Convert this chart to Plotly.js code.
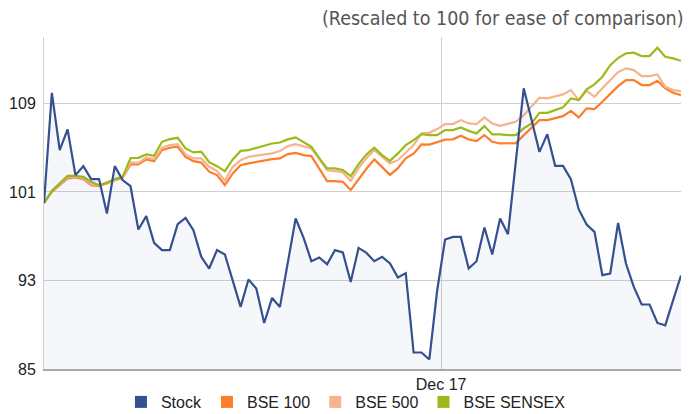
<!DOCTYPE html>
<html>
<head>
<meta charset="utf-8">
<script src="https://cdn.plot.ly/plotly-3.0.1.min.js"></script>
<style>
  html, body { margin: 0; padding: 0; background: #ffffff; }
  #chart { width: 689px; height: 414px; }
</style>
</head>
<body>
<div id="chart"></div>
<script>
// ---- data (rescaled to 100), one value per trading day ----
const stock = [100.00,109.96,104.78,106.65,102.52,103.33,102.16,102.16,99.05,103.33,
  102.07,101.52,97.61,98.81,96.40,95.74,95.74,98.09,98.66,97.54,
  95.13,94.08,95.74,95.35,92.98,90.61,93.09,92.27,89.16,91.42,
  90.61,94.61,98.60,96.88,94.74,95.08,94.47,95.74,95.53,92.87,
  95.94,95.49,94.74,95.13,94.53,93.27,93.66,86.49,86.49,85.86,
  92.12,96.70,96.94,96.94,94.08,94.74,97.79,95.35,98.60,97.18,
  103.78,110.36,107.49,104.62,106.22,103.36,103.36,102.16,99.42,98.06,
  97.39,93.48,93.63,98.20,94.53,92.42,90.83,90.83,89.16,88.95,
  91.22,93.45];

const bse100 = [100.00,101.01,101.61,102.22,102.31,102.16,101.61,101.52,101.77,102.07,
  102.27,103.49,103.49,103.94,103.78,104.78,104.99,105.08,104.17,103.78,
  103.65,102.83,102.52,101.61,102.67,103.42,103.58,103.72,103.87,103.96,
  104.03,104.42,104.53,104.33,104.24,103.11,101.98,101.98,101.91,101.16,
  102.16,103.09,103.94,103.27,102.54,103.15,104.03,104.46,105.29,105.28,
  105.50,105.73,105.75,106.07,105.75,105.59,106.13,105.53,105.38,105.38,
  105.41,106.13,106.83,107.49,107.49,107.64,107.85,108.33,107.73,108.55,
  108.49,109.15,109.90,110.56,111.11,111.11,110.66,110.66,111.04,110.36,
  109.96,109.75];

const bse500 = [100.00,101.07,101.66,102.34,102.38,102.25,101.70,101.57,101.84,102.11,
  102.34,103.67,103.63,104.12,103.96,104.99,105.23,105.32,104.39,104.03,
  104.03,103.27,102.91,102.00,103.27,103.87,104.17,104.28,104.39,104.48,
  104.69,105.14,105.32,105.14,104.93,103.96,102.97,102.88,102.76,102.00,
  103.15,104.05,104.78,104.17,103.58,103.87,104.53,105.23,106.29,106.34,
  106.68,107.13,107.13,107.49,107.19,107.13,107.73,107.19,106.98,107.13,
  107.34,107.94,108.69,109.51,109.45,109.66,109.81,110.20,109.30,110.14,
  109.60,110.36,111.11,111.83,112.17,112.01,111.47,111.47,111.62,110.50,
  110.20,110.11];

const sensex = [100.00,101.10,101.77,102.45,102.45,102.36,101.91,101.61,101.86,102.16,
  102.36,104.05,104.08,104.39,104.26,105.53,105.77,105.89,104.93,104.57,
  104.64,103.69,103.33,102.88,103.94,104.71,104.78,104.96,105.14,105.38,
  105.47,105.75,105.93,105.53,105.08,104.05,103.12,103.12,102.97,102.43,
  103.51,104.39,105.00,104.33,103.81,104.48,105.23,105.68,106.22,106.13,
  106.13,106.59,106.59,106.83,106.52,106.29,106.95,106.20,106.20,106.13,
  106.13,106.74,107.19,108.15,108.15,108.39,108.64,109.45,109.30,110.27,
  110.72,111.41,112.46,113.10,113.52,113.58,113.28,113.28,114.03,113.21,
  113.07,112.85];

const seriesNames = ['Stock', 'BSE 100', 'BSE 500', 'BSE SENSEX'];
const yTicks = [85, 93, 101, 109];
const xTickPos = [50.5];
const xTickText = ['Dec 17'];
const subtitle = '(Rescaled to 100 for ease of comparison)';

// trading-day position of each observation
const day = stock.map((_, i) => i);

const colors = {
  'Stock': '#34508e',
  'BSE 100': '#fd7d2b',
  'BSE 500': '#f6b48e',
  'BSE SENSEX': '#9cbb1b'
};

const lineTrace = (name, ys, extra) => Object.assign({
  type: 'scatter', mode: 'lines', name: name, x: day, y: ys,
  line: { color: colors[name], width: 2.2 },
  showlegend: false, hoverinfo: 'skip'
}, extra || {});

const traces = [
  lineTrace('BSE 100', bse100),
  lineTrace('BSE 500', bse500),
  lineTrace('BSE SENSEX', sensex),
  lineTrace('Stock', stock, { fill: 'tozeroy', fillcolor: 'rgba(52,80,142,0.045)' })
];

// legend entries with square swatches
seriesNames.forEach(n => traces.push({
  type: 'scatter', mode: 'markers', name: n, x: [null], y: [null],
  marker: { symbol: 'square', size: 12, color: colors[n] },
  showlegend: true, hoverinfo: 'skip'
}));

const layout = {
  width: 689, height: 414,
  margin: { l: 44, r: 8, t: 37, b: 45, autoexpand: false },
  paper_bgcolor: '#ffffff', plot_bgcolor: '#ffffff',
  font: { family: 'Liberation Sans, Arial, sans-serif', color: '#333333', size: 16 },
  showlegend: true,
  legend: {
    orientation: 'h', x: 0.474, xanchor: 'center', y: -0.0994, yanchor: 'middle',
    font: { size: 16, color: '#222222' }, itemwidth: 30, tracegroupgap: 0,
    bgcolor: 'rgba(0,0,0,0)'
  },
  xaxis: {
    range: [0, day.length - 1], automargin: false,
    tickmode: 'array', tickvals: xTickPos, ticktext: xTickText,
    showgrid: true, gridcolor: '#cfcfcf', gridwidth: 1,
    zeroline: false, showline: true, linecolor: '#a8a8a8', linewidth: 1.5,
    ticks: '', tickfont: { size: 16, color: '#222222' }, fixedrange: true
  },
  yaxis: {
    range: [85, 115], automargin: false,
    tickmode: 'array', tickvals: yTicks,
    showgrid: true, gridcolor: '#cfcfcf', gridwidth: 1,
    zeroline: false, showline: true, linecolor: '#d0d0d0', linewidth: 1,
    ticks: '', ticklabelstandoff: 4, tickfont: { size: 16, color: '#222222' },
    fixedrange: true
  },
  annotations: [{
    text: subtitle, xref: 'paper', yref: 'paper', x: 1.008, y: 1.057,
    xanchor: 'right', yanchor: 'middle', showarrow: false,
    font: { family: 'DejaVu Sans Condensed, Liberation Sans Narrow, sans-serif', size: 19.5, color: '#555555' }
  }]
};

Plotly.newPlot('chart', traces, layout, { staticPlot: true, displayModeBar: false });
</script>
</body>
</html>
